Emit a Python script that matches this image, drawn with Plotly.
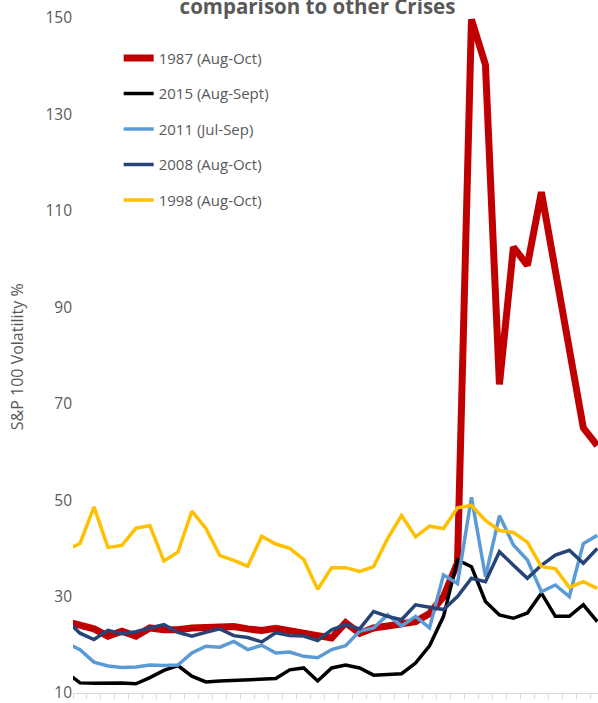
import plotly.graph_objects as go

# trading-day index (day 0 lies just left of the visible window)
days = list(range(39))

vol_1987 = [24.8, 24.2, 23.3, 21.8, 22.8, 21.8, 23.5, 23.1, 23.1, 23.5, 23.6, 23.7, 23.8,
            23.3, 22.95, 23.4, 23.0, 22.5, 21.9, 21.4, 24.6, 22.4, 23.5, 23.9, 24.4, 24.8,
            26.5, 30.0, 37.0, 149.7, 140.3, 74.0, 102.5, 98.7, 113.9, 97.7, 81.4, 65.0, 61.3]
vol_2015 = [14.3, 12.1, 12.0, 12.0, 12.1, 11.9, 13.2, 14.7, 15.7, 13.5, 12.3, 12.5, 12.6,
            12.7, 12.9, 13.0, 14.8, 15.2, 12.5, 15.2, 15.8, 15.2, 13.7, 13.9, 14.0, 16.2,
            19.8, 25.9, 37.6, 36.2, 29.0, 26.2, 25.5, 26.6, 30.7, 25.9, 25.9, 28.3, 24.8]
vol_2011 = [20.4, 19.0, 16.4, 15.6, 15.3, 15.4, 15.8, 15.7, 15.8, 18.3, 19.7, 19.5, 20.7,
            19.0, 19.9, 18.3, 18.5, 17.6, 17.3, 19.0, 19.8, 22.8, 23.5, 26.2, 23.9, 25.9,
            23.5, 34.5, 32.7, 50.6, 34.1, 46.8, 40.7, 37.6, 31.0, 32.4, 30.0, 41.0, 42.7]
vol_2008 = [25.2, 22.4, 21.1, 23.0, 22.3, 22.7, 23.5, 24.2, 22.6, 21.8, 22.6, 23.3, 21.9,
            21.5, 20.6, 22.5, 21.9, 21.8, 20.9, 23.1, 24.2, 23.3, 26.9, 25.9, 25.2, 28.3,
            27.8, 27.3, 30.0, 33.8, 33.1, 39.3, 36.5, 33.8, 36.5, 38.6, 39.6, 36.9, 40.0]
vol_1998 = [39.6, 41.0, 48.6, 40.2, 40.6, 44.2, 44.7, 37.4, 39.2, 47.7, 44.2, 38.5, 37.5,
            36.3, 42.5, 40.9, 40.0, 37.7, 31.5, 36.0, 36.0, 35.2, 36.2, 42.0, 46.8, 42.4,
            44.6, 44.1, 48.4, 48.9, 45.8, 43.7, 43.3, 41.3, 36.2, 35.8, 31.9, 33.1, 31.7]

series_names = ["1987 (Aug-Oct)", "2015 (Aug-Sept)", "2011 (Jul-Sep)", "2008 (Aug-Oct)", "1998 (Aug-Oct)"]
series_values = [vol_1987, vol_2015, vol_2011, vol_2008, vol_1998]
series_colors = ["#C00000", "#000000", "#5B9BD5", "#264478", "#FFC000"]
series_widths = [7, 3.5, 3.5, 3.5, 3.5]

y_ticks = [10, 30, 50, 70, 90, 110, 130, 150]

FONT = "Open Sans"
GREY = "#595959"

fig = go.Figure()
for i, (name, vals, col, w) in enumerate(zip(series_names, series_values, series_colors, series_widths)):
    fig.add_trace(go.Scatter(x=days, y=vals, mode="lines", name=name,
                             legendgroup=f"g{i}",
                             line=dict(color=col, width=w)))

fig.add_annotation(text="S&P 100 Volatility %", textangle=-90, showarrow=False,
                   xref="paper", yref="paper", x=-0.1067, y=0.499,
                   xanchor="center", yanchor="middle",
                   font=dict(size=16, color=GREY, family=FONT))

fig.update_layout(
    width=598, height=703,
    margin=dict(l=73, r=0, t=18, b=6),
    paper_bgcolor="white", plot_bgcolor="white",
    font=dict(family=FONT, color=GREY),
    title=dict(text="<b>comparison to other Crises</b>", x=317.5 / 598, xanchor="center",
               xref="container", yref="container", y=1 - 7 / 703, yanchor="middle",
               font=dict(size=20.5, color=GREY, family=FONT)),
    legend=dict(x=0.087, y=0.965, xanchor="left", yanchor="top",
                bgcolor="rgba(0,0,0,0)", tracegroupgap=13,
                font=dict(size=15, color=GREY, family=FONT)),
    xaxis=dict(range=[0.5, 38.05], showgrid=False, zeroline=False,
               showline=True, linecolor="#D9D9D9", linewidth=1,
               tickvals=[d + 0.5 for d in days], ticks="outside", ticklen=5,
               tickcolor="#D9D9D9", showticklabels=False),
    yaxis=dict(range=[10, 150], tickvals=y_ticks, showgrid=False, zeroline=False,
               showline=False, ticks="", ticklabeloverflow="allow",
               tickfont=dict(size=15.5, color=GREY)),
)

fig.write_html("out.html", config={"displayModeBar": False},
               post_script="document.body.style.margin='0px';")
